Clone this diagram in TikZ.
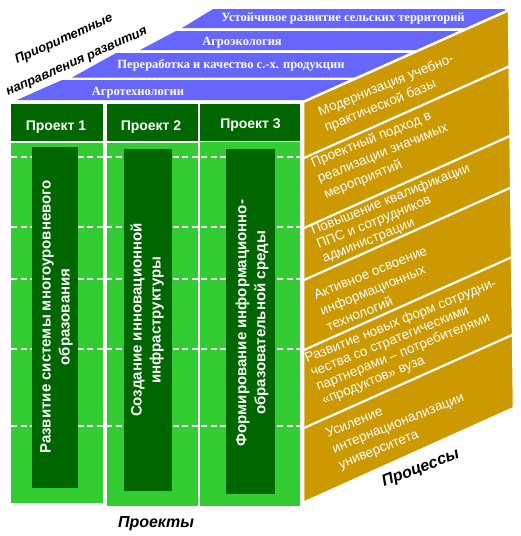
\documentclass[tikz,border=0pt]{standalone}
\usepackage{fontspec}
\setmainfont{Liberation Serif}
\newfontfamily\sansf{Liberation Sans}
\newfontfamily\seriff{Liberation Serif}
\definecolor{bandblue}{HTML}{6666FF}
\definecolor{goldface}{HTML}{CC9900}
\definecolor{dgreen}{HTML}{006600}
\definecolor{lgreen}{HTML}{33CC33}
\tikzset{
  bandtext/.style={text=white, font=\seriff\bfseries\fontsize{12.5}{14}\selectfont, inner sep=0pt, anchor=base},
  hdrtext/.style={text=white, font=\sansf\bfseries\fontsize{14}{16}\selectfont, inner sep=0pt, anchor=base},
  bartext/.style={text=white, font=\sansf\bfseries\fontsize{15}{19}\selectfont, align=center, rotate=90, inner sep=0pt},
  proctext/.style={text=white, font=\sansf\fontsize{13.5}{17}\selectfont, align=left, rotate=22, anchor=north west, inner sep=0pt},
  proctextb/.style={proctext, font=\sansf\fontsize{13.5}{15}\selectfont},
  biglabel/.style={text=black, font=\sansf\bfseries\itshape\fontsize{16}{18}\selectfont, inner sep=0pt},
  sidelabel/.style={text=black, font=\sansf\bfseries\itshape\fontsize{13}{16}\selectfont, inner sep=0pt, anchor=base west, rotate=24},
  dashline/.style={white, line width=1.3pt, dash pattern=on 6pt off 3.5pt},
  divline/.style={white, line width=2.2pt},
}
\begin{document}
\begin{tikzpicture}[x=1pt,y=-1pt]
\useasboundingbox (0,0) rectangle (520,536);
% top face: priority bands
\fill[bandblue] (17,100) -- (62,80) -- (505,80) -- (505,100) -- cycle;
\fill[bandblue] (72,77.5) -- (116,53) -- (505,53) -- (505,77.5) -- cycle;
\fill[bandblue] (140,50) -- (176,31) -- (505,31) -- (505,50) -- cycle;
\fill[bandblue] (182,28) -- (213,9) -- (505,9) -- (505,28) -- cycle;
\node[bandtext] (b1) at (138,95) {Агротехнологии};
\node[bandtext] (b2) at (231,68) {Переработка и качество с.-х. продукции};
\node[bandtext] (b3) at (242,45.5) {Агроэкология};
\node[bandtext] (b4) at (343,21.5) {Устойчивое развитие сельских территорий};
% front face: project columns
\fill[dgreen] (11,104) rectangle (103,141);
\fill[lgreen] (11,142.5) rectangle (103,503);
\fill[dgreen] (107,104) rectangle (198,141);
\fill[lgreen] (107,142.5) rectangle (198,506);
\fill[dgreen] (200,104) rectangle (300,140.5);
\fill[lgreen] (200,142) rectangle (300,506);
\foreach \yy in {157,227,279,349,426} {
  \draw[dashline] (11,\yy) -- (300,\yy);
}
\fill[dgreen] (32,147) rectangle (78,488);
\fill[dgreen] (124,149) rectangle (172,491);
\fill[dgreen] (226,149) rectangle (275,494);
\node[hdrtext] (h1) at (56,130) {Проект 1};
\node[hdrtext] (h2) at (151,130) {Проект 2};
\node[hdrtext] (h3) at (250.5,128.5) {Проект 3};
\node[bartext] (p1) at (56.5,317) {Развитие системы многоуровневого\\образования};
\node[bartext] (p2) at (147,320) {Создание инновационной\\инфраструктуры};
\node[bartext] (p3) at (252,323) {Формирование информационно-\\образовательной среды};
% side face: processes
\fill[goldface] (303,102) -- (509,10) -- (514,408) -- (303,503) -- cycle;
\begin{scope}
  \clip (303,102) -- (509,10) -- (514,408) -- (303,503) -- cycle;
  \foreach \yy in {158.5,228.5,280.5,350.5,428.5} {
    \draw[divline] (300,\yy+1.3) -- (520,\yy-97);
  }
\end{scope}
\draw[white, line width=2.5pt, line join=round] (303,102) -- (509,10) -- (514,408) -- (303,503) -- cycle;
\node[proctext] (r1) at (316.3,106.8) {Модернизация учебно-\\практической базы};
\node[proctext] (r2) at (309.3,157.8) {Проектный подход в\\реализации значимых\\мероприятий};
\node[proctextb] (r3) at (309.3,225.8) {Повышение квалификации\\ППС и сотрудников\\администрации};
\node[proctext] (r4) at (312.3,290.8) {Активное освоение\\информационных\\технологий};
\node[proctextb] (r5) at (303.3,353.8) {Развитие новых форм сотрудни-\\чества со стратегическими\\партнерами – потребителями\\«продуктов» вуза};
\node[proctext] (r6) at (324.3,428.8) {Усиление\\интернационализации\\университета};
% labels
\node[sidelabel] (l1) at (17,64) {Приоритетные};
\node[sidelabel] (l2) at (8,96) {направления развития};
\node[biglabel, anchor=base] (l3) at (156,527) {Проекты};
\node[biglabel, anchor=base west, rotate=21] (l4) at (384,487) {Процессы};
\end{tikzpicture}
\end{document}
